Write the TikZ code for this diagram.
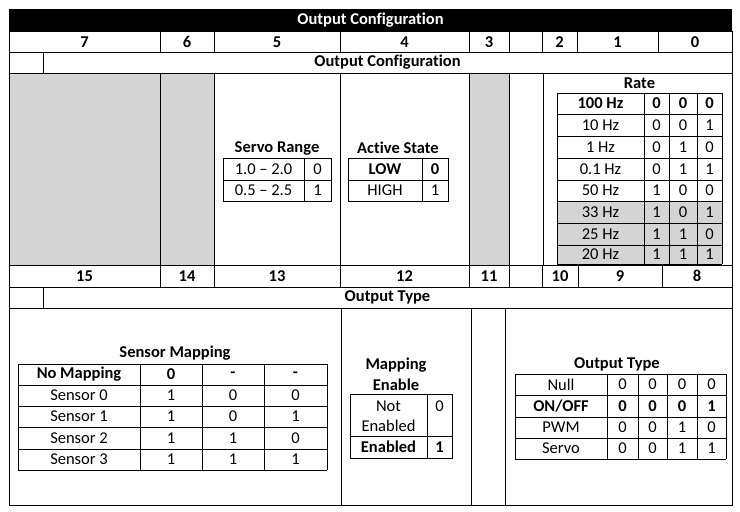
\documentclass[tikz,border=0pt]{standalone}
\usepackage{fontspec}
\setmainfont[Ligatures={NoCommon}]{Carlito}
\begin{document}
\begin{tikzpicture}[x=1pt,y=-1pt,line width=0.9pt,
  t/.style={font=\fontsize{16.5}{18}\selectfont,inner sep=0pt,anchor=center},
  tb/.style={t,font=\fontsize{16.5}{18}\selectfont\bfseries},
  ln/.style={line width=0.9pt},
  gr/.style={fill=black!17}]
\useasboundingbox (0,0) rectangle (740,512);
% title bar
\fill[black] (9,9) rectangle (732,31);
\node[tb,text=white] (title) at (370.5,20) {Output Configuration};
% gray areas
\fill[gr] (9,73) rectangle (160,265);
\fill[gr] (160,73) rectangle (214,265);
\fill[gr] (469,73) rectangle (509,265);
% outer
\draw[ln] (9,31) rectangle (732,505);
% horizontal lines
\foreach \y in {52,73,265,287,308} \draw[ln] (9,\y) -- (732,\y);
% verticals
\foreach \x in {160,214,340,469,509,542,577,658} \draw[ln] (\x,31) -- (\x,52);
\foreach \x in {160,214,340,469,509,543} \draw[ln] (\x,73) -- (\x,265);
\foreach \x in {160,214,340,469,509,542,578,662} \draw[ln] (\x,265) -- (\x,287);
\draw[ln] (43,52) -- (43,73);
\draw[ln] (43,287) -- (43,308);
\foreach \x in {341,471,505} \draw[ln] (\x,308) -- (\x,505);
% number labels
\foreach \n/\x in {7/84.5,6/187,5/277,4/404.5,3/489,2/559.5,1/617.5,0/695}
  \node[tb] (n\n) at (\x,42) {\n};
\foreach \n/\x in {15/84.5,14/187,13/277,12/404.5,11/489,10/560,9/620,8/697}
  \node[tb] (n\n) at (\x,276) {\n};
\node[tb] (oc) at (387.5,62.5) {Output Configuration};
\node[tb] (ot) at (387.5,297.5) {Output Type};
% Rate table
\node[tb] (rate) at (639.5,83) {Rate};
\fill[gr] (557,201) rectangle (722,264);
\foreach \y in {93,114,136,158,180,201,223,245,264} \draw[ln] (557,\y) -- (722,\y);
\foreach \x in {557,644,669,697,722} \draw[ln] (\x,93) -- (\x,264);
\foreach \i/\lab/\a/\b/\c/\ya/\yb in {1/{100 Hz}/0/0/0/93/114,2/{10 Hz}/0/0/1/114/136,3/{1 Hz}/0/1/0/136/158,4/{0.1 Hz}/0/1/1/158/180,5/{50 Hz}/1/0/0/180/201,6/{33 Hz}/1/0/1/201/223,7/{25 Hz}/1/1/0/223/245,8/{20 Hz}/1/1/1/245/264}{
  \ifnum\i=1 \tikzset{cur/.style={tb}}\else\tikzset{cur/.style={t}}\fi
  \node[cur] (r\i) at (600.5,{(\ya+\yb)/2}) {\lab};
  \node[cur] (ra\i) at (656.5,{(\ya+\yb)/2}) {\a};
  \node[cur] (rb\i) at (683,{(\ya+\yb)/2}) {\b};
  \node[cur] (rc\i) at (709.5,{(\ya+\yb)/2}) {\c};
}
% Servo range
\node[tb] (sr) at (277,148) {Servo Range};
\draw[ln] (223,158) rectangle (331,201);
\draw[ln] (223,180) -- (331,180);
\draw[ln] (304,158) -- (304,201);
\node[t] (sr1) at (263.5,169) {1.0 -- 2.0};
\node[t] (sr1v) at (317.5,169) {0};
\node[t] (sr2) at (263.5,190.5) {0.5 -- 2.5};
\node[t] (sr2v) at (317.5,190.5) {1};
% Active state
\node[tb] (as) at (398,148) {Active State};
\draw[ln] (348,158) rectangle (448,201);
\draw[ln] (348,180) -- (448,180);
\draw[ln] (422,158) -- (422,201);
\node[tb] (as1) at (385,169) {LOW};
\node[tb] (as1v) at (435,169) {0};
\node[t] (as2) at (385,190.5) {HIGH};
\node[t] (as2v) at (435,190.5) {1};
% Sensor mapping
\node[tb] (sm) at (175,353) {Sensor Mapping};
\foreach \y in {364,385,406,427,449,470} \draw[ln] (18,\y) -- (327,\y);
\foreach \x in {18,140,202,264,327} \draw[ln] (\x,364) -- (\x,470);
\foreach \i/\lab/\a/\b/\c/\ya/\yb in {1/{No Mapping}/0/-/-/364/385,2/{Sensor 0}/1/0/0/385/406,3/{Sensor 1}/1/0/1/406/427,4/{Sensor 2}/1/1/0/427/449,5/{Sensor 3}/1/1/1/449/470}{
  \ifnum\i=1 \tikzset{cur/.style={tb}}\else\tikzset{cur/.style={t}}\fi
  \node[cur] (s\i) at (79,{(\ya+\yb)/2}) {\lab};
  \node[cur] (sa\i) at (171,{(\ya+\yb)/2}) {\a};
  \node[cur] (sb\i) at (233,{(\ya+\yb)/2}) {\b};
  \node[cur] (sc\i) at (295.5,{(\ya+\yb)/2}) {\c};
}
% Mapping enable
\node[tb] (me1) at (396,365) {Mapping};
\node[tb] (me2) at (396,385) {Enable};
\draw[ln] (350,394) rectangle (452,458);
\draw[ln] (350,436) -- (452,436);
\draw[ln] (427,394) -- (427,458);
\node[t] (mn1) at (388.5,406) {Not};
\node[t] (mn2) at (388.5,426) {Enabled};
\node[t] (mnv) at (439.5,406) {0};
\node[tb] (me) at (388.5,447) {Enabled};
\node[tb] (mev) at (439.5,447) {1};
% Output type table
\node[tb] (ott) at (617,364) {Output Type};
\foreach \y in {374,395,417,438,459} \draw[ln] (515,\y) -- (726,\y);
\foreach \x in {515,607,638,667,697,726} \draw[ln] (\x,374) -- (\x,459);
\foreach \i/\lab/\a/\b/\c/\d/\ya/\yb in {1/Null/0/0/0/0/374/395,2/{ON/OFF}/0/0/0/1/395/417,3/PWM/0/0/1/0/417/438,4/Servo/0/0/1/1/438/459}{
  \ifnum\i=2 \tikzset{cur/.style={tb}}\else\tikzset{cur/.style={t}}\fi
  \node[cur] (o\i) at (561,{(\ya+\yb)/2}) {\lab};
  \node[cur] (oa\i) at (622.5,{(\ya+\yb)/2}) {\a};
  \node[cur] (ob\i) at (652.5,{(\ya+\yb)/2}) {\b};
  \node[cur] (oc\i) at (682,{(\ya+\yb)/2}) {\c};
  \node[cur] (od\i) at (711.5,{(\ya+\yb)/2}) {\d};
}
\end{tikzpicture}
\end{document}
